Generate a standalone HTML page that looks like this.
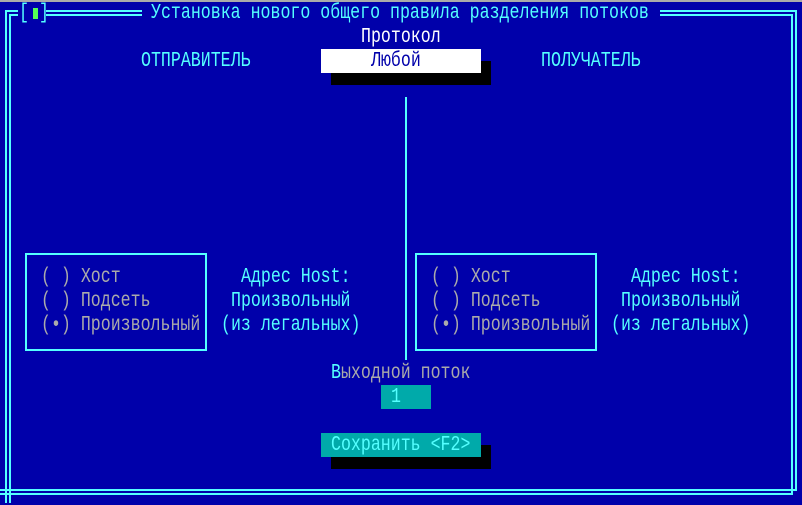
<!DOCTYPE html>
<html><head><meta charset="utf-8"><style>
html,body{margin:0;padding:0}
body{width:802px;height:505px;background:#0000aa;position:relative;overflow:hidden;font-family:"Liberation Mono",monospace;font-size:16.6px}
.t{position:absolute;height:24px;line-height:24px;white-space:pre;transform:scaleY(1.3);transform-origin:0 50%}
.c{color:#55ffff}.g{color:#aaaaaa}.w{color:#fff}
.r{position:absolute}
</style></head><body>
<div class="r" style="left:0;top:0;width:802px;height:2px;background:#aaaaaa"></div>
<svg width="802" height="505" style="position:absolute;left:0;top:0">
<g stroke="#55ffff" stroke-width="2" fill="none">
<path d="M6 503 V11 H18 M10 503 V15 H18"/>
<path d="M46 11 H142 M46 15 H142"/>
<path d="M660 11 H796 V490 H0 M660 15 H792 V494 H0"/>
<rect x="26" y="254" width="180" height="96"/>
<rect x="416" y="254" width="180" height="96"/>
<path d="M406 97 V360"/>
</g>
<rect x="33" y="8" width="5" height="11" fill="#55ff55"/>
</svg>
<div class="t c" style="left:19px;top:1px">[</div>
<div class="t c" style="left:39px;top:1px">]</div>
<div class="t c" style="left:151px;top:1px">Установка нового общего правила разделения потоков</div>
<div class="t w" style="left:361px;top:25px">Протокол</div>
<div class="r" style="left:331px;top:61px;width:160px;height:24px;background:#000"></div>
<div class="r" style="left:321px;top:49px;width:160px;height:24px;background:#fff"></div>
<div class="t" style="left:371px;top:49px;color:#0000aa">Любой</div>
<div class="t c" style="left:141px;top:49px">ОТПРАВИТЕЛЬ</div>
<div class="t c" style="left:541px;top:49px">ПОЛУЧАТЕЛЬ</div>

<div class="t g" style="left:41px;top:265px">( ) Хост</div>
<div class="t g" style="left:41px;top:289px">( ) Подсеть</div>
<div class="t g" style="left:41px;top:313px">(•) Произвольный</div>
<div class="t c" style="left:241px;top:265px">Адрес Host:</div>
<div class="t c" style="left:231px;top:289px">Произвольный</div>
<div class="t c" style="left:221px;top:313px">(из легальных)</div>

<div class="t g" style="left:431px;top:265px">( ) Хост</div>
<div class="t g" style="left:431px;top:289px">( ) Подсеть</div>
<div class="t g" style="left:431px;top:313px">(•) Произвольный</div>
<div class="t c" style="left:631px;top:265px">Адрес Host:</div>
<div class="t c" style="left:621px;top:289px">Произвольный</div>
<div class="t c" style="left:611px;top:313px">(из легальных)</div>

<div class="t g" style="left:331px;top:361px"><span class="c">В</span>ыходной поток</div>
<div class="r" style="left:381px;top:385px;width:50px;height:24px;background:#00aaaa"></div>
<div class="t c" style="left:391px;top:385px">1</div>
<div class="r" style="left:331px;top:445px;width:160px;height:24px;background:#000"></div>
<div class="r" style="left:321px;top:433px;width:160px;height:24px;background:#00aaaa"></div>
<div class="t c" style="left:331px;top:433px">Сохранить &lt;F2&gt;</div>
</body></html>
